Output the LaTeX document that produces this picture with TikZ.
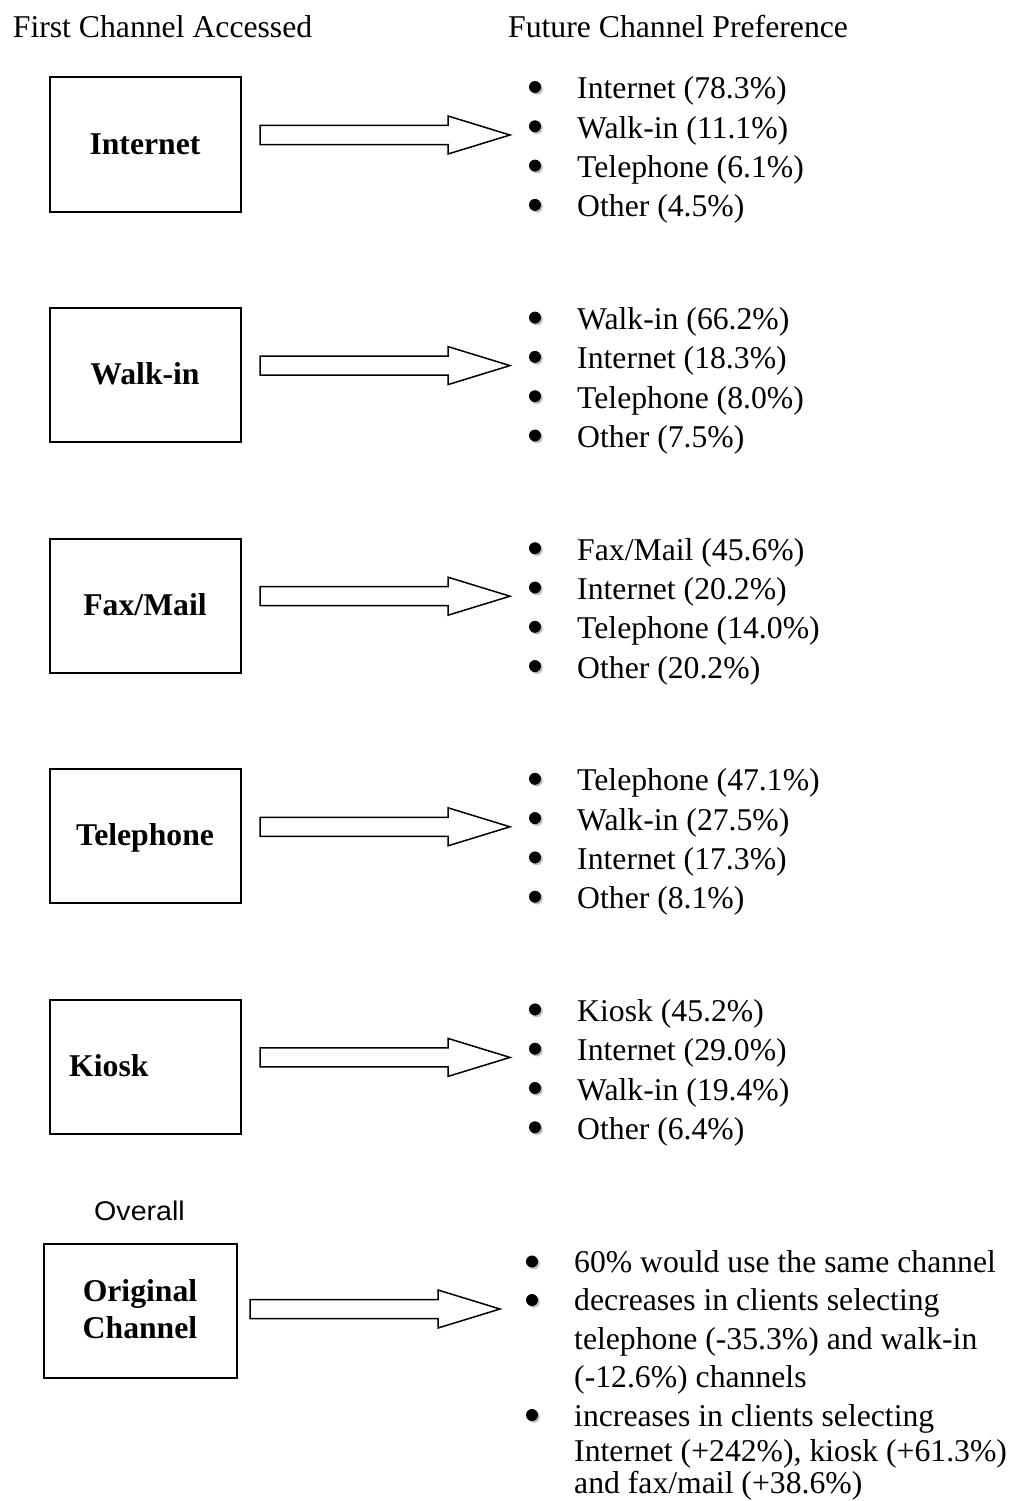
\documentclass[tikz,border=0pt]{standalone}
\usepackage{graphicx}
\usepackage{fontspec}
\setmainfont{Liberation Serif}
\newfontfamily\arialfont{Liberation Sans}
\tikzset{
  chanbox/.style={draw, line width=2pt, minimum width=191pt, minimum height=134pt, inner sep=0pt},
  chanlabel/.style={font=\bfseries\fontsize{31.7}{37}\selectfont, anchor=base, inner sep=0pt},
  itemtext/.style={font=\fontsize{31.7}{38}\selectfont, anchor=base west, inner sep=0pt},
  headtext/.style={font=\fontsize{31.7}{38}\selectfont, anchor=base west, inner sep=0pt},
  blockarrow/.style={draw, line width=1.5pt, fill=white, line join=miter},
}
\newcommand\bulletdot[2]{%
  \fill[gray!50] (#1+1.8,#2+1.8) circle (6pt);
  \fill[black] (#1,#2) circle (6pt);
}
\newcommand\blockarr[3]{% x0, tip y, x1
  \draw[blockarrow] (#1,#2-9.5) -- (#3-62,#2-9.5) -- (#3-62,#2-19) -- (#3,#2)
    -- (#3-62,#2+19) -- (#3-62,#2+9.5) -- (#1,#2+9.5) -- cycle;
}
\newcommand\chanblock[6]{%
  \pgfmathsetmacro\yo{#1*230.6}
  \node[chanbox] (box#1) at (145,144.5+\yo) {};
  \node[chanlabel] (lab#1) at (145,154+\yo) {#2};
  \blockarr{260}{135+\yo}{510}
  \bulletdot{535}{87+\yo}
  \bulletdot{535}{126.3+\yo}
  \bulletdot{535}{165.6+\yo}
  \bulletdot{535}{204.9+\yo}
  \node[itemtext] (it#1a) at (577,99+\yo) {#3};
  \node[itemtext] (it#1b) at (577,138.3+\yo) {#4};
  \node[itemtext] (it#1c) at (577,177.6+\yo) {#5};
  \node[itemtext] (it#1d) at (577,216.9+\yo) {#6};
}
\begin{document}
\begin{tikzpicture}[x=1pt,y=-1pt]
\fill[white] (0,0) rectangle (1011,1501);
\useasboundingbox (0,0) rectangle (1011,1501);

\node[headtext] (hfirst) at (12.7,38) {First Channel Accessed};
\node[headtext] (hfuture) at (508,38) {Future Channel Preference};

\chanblock{0}{Internet}{Internet (78.3\%)}{Walk-in (11.1\%)}{Telephone (6.1\%)}{Other (4.5\%)}
\chanblock{1}{Walk-in}{Walk-in (66.2\%)}{Internet (18.3\%)}{Telephone (8.0\%)}{Other (7.5\%)}
\chanblock{2}{Fax/Mail}{Fax/Mail (45.6\%)}{Internet (20.2\%)}{Telephone (14.0\%)}{Other (20.2\%)}
\chanblock{3}{Telephone}{Telephone (47.1\%)}{Walk-in (27.5\%)}{Internet (17.3\%)}{Other (8.1\%)}
\chanblock{4}{}{Kiosk (45.2\%)}{Internet (29.0\%)}{Walk-in (19.4\%)}{Other (6.4\%)}
\node[chanlabel, anchor=base west] (kiosklab) at (69,1076) {Kiosk};

% Overall
\node[font=\arialfont\fontsize{27}{30}\selectfont, anchor=base west, inner sep=0pt] (overall) at (94,1220) {\scalebox{1.06}[1]{Overall}};
\node[chanbox, minimum width=193pt] (box5) at (140,1310.5) {};
\node[chanlabel] (lab5a) at (140,1301) {Original};
\node[chanlabel] (lab5b) at (140,1338) {Channel};
\blockarr{250}{1309}{500}
\bulletdot{532}{1261.5}
\bulletdot{532}{1300}
\bulletdot{532}{1415}
\node[itemtext] (o1) at (574,1272) {60\% would use the same channel};
\node[itemtext] (o2) at (574,1310.5) {decreases in clients selecting};
\node[itemtext] (o3) at (574,1349) {telephone (-35.3\%) and walk-in};
\node[itemtext] (o4) at (574,1387.5) {(-12.6\%) channels};
\node[itemtext] (o5) at (574,1426) {increases in clients selecting};
\node[itemtext] (o6) at (574,1461) {Internet (+242\%), kiosk (+61.3\%)};
\node[itemtext] (o7) at (574,1493) {and fax/mail (+38.6\%)};
\end{tikzpicture}
\end{document}
